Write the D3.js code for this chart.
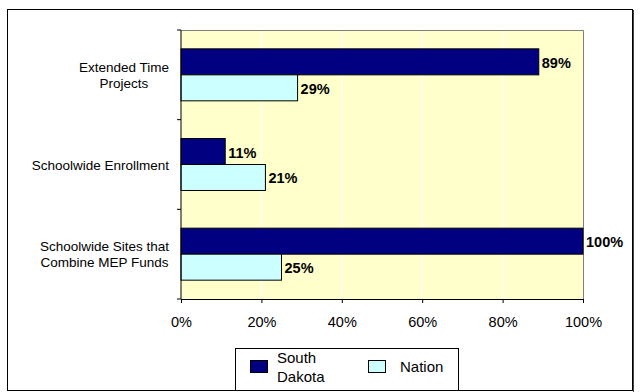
<!DOCTYPE html>
<html><head><meta charset="utf-8">
<script src="https://cdn.jsdelivr.net/npm/d3@7"></script>
<style>body{margin:0;background:#fff}svg{display:block;font-family:"Liberation Sans",Arial,sans-serif}</style>
</head><body><svg id="c" width="643" height="392"></svg>
<script>
const categories = [["Extended Time","Projects"],["Schoolwide Enrollment"],["Schoolwide Sites that","Combine MEP Funds"]];
const southDakota = [89, 11, 100];
const nation = [29, 21, 25];
const seriesNames = [["South","Dakota"],["Nation"]];
const xTicks = [0, 20, 40, 60, 80, 100];
const colors = ["#000080", "#CCFFFF"];

const svg = d3.select("#c");
svg.append("rect").attr("x",7.5).attr("y",9.5).attr("width",625).attr("height",381).attr("fill","#fff").attr("stroke","#000");
svg.append("line").attr("x1",633.5).attr("x2",633.5).attr("y1",10).attr("y2",392).attr("stroke","#444");

const L=181, R=583, T=30, B=299;
const x = d3.scaleLinear().domain([0,100]).range([L,R]);
const y = d3.scaleBand().domain(d3.range(categories.length)).range([T,B]).paddingInner(0).paddingOuter(0);
const inner = d3.scaleBand().domain([0,1]).range([0,y.bandwidth()]).paddingInner(0).paddingOuter(0.725);

svg.append("rect").attr("x",L).attr("y",T).attr("width",R-L).attr("height",B-T).attr("fill","#FFFFCC");
svg.append("g").selectAll("line").data(xTicks.slice(1,-1)).join("line")
  .attr("x1",d=>x(d)).attr("x2",d=>x(d)).attr("y1",T).attr("y2",B).attr("stroke","#fff").attr("stroke-width",1);
svg.append("path").attr("d",`M${L},${T+0.5}H${R+0.5}V${B}`).attr("fill","none").attr("stroke","#808080");

const series=[southDakota,nation];
series.forEach((vals,si)=>{
  const g=svg.append("g");
  g.selectAll("rect").data(vals).join("rect")
    .attr("x",L).attr("y",(d,i)=>y(i)+inner(si))
    .attr("width",d=>x(d)-L).attr("height",inner.bandwidth())
    .attr("fill",colors[si]).attr("stroke","#000").attr("stroke-width",1);
  g.selectAll("text").data(vals).join("text")
    .attr("x",d=>x(d)+3).attr("y",(d,i)=>y(i)+inner(si)+inner.bandwidth()/2+6)
    .attr("font-size",14.5).attr("font-weight","bold").text(d=>d+"%");
});

// x axis
const xa=svg.append("g").attr("transform",`translate(0,${B})`)
  .call(d3.axisBottom(x).tickValues(xTicks).tickFormat(d=>d+"%").tickSize(4).tickSizeOuter(0));
xa.select(".domain").attr("stroke","#000");
xa.selectAll("text").attr("font-size",14.5).attr("dy",null).attr("y",28).attr("font-family","Liberation Sans, Arial, sans-serif").attr("fill","#000");

// y axis
const ya=svg.append("g").attr("transform",`translate(${L},0)`);
ya.append("line").attr("x1",0).attr("x2",0).attr("y1",T).attr("y2",B).attr("stroke","#000");
ya.selectAll("line.t").data(d3.range(categories.length+1)).join("line").attr("class","t")
  .attr("x1",-4).attr("x2",0).attr("y1",d=>T+d*y.bandwidth()).attr("y2",d=>T+d*y.bandwidth()).attr("stroke","#000");
categories.forEach((lines,i)=>{
  const cy=y(i)+y.bandwidth()/2;
  const t=svg.append("text").attr("text-anchor","middle").attr("font-size",13.5).attr("fill","#000");
  const tspans=lines.map((l,k)=>t.append("tspan").attr("y",cy+5+(k-(lines.length-1)/2)*16).text(l));
  const maxW=d3.max(tspans,s=>s.node().getComputedTextLength());
  const cx=169-maxW/2;
  tspans.forEach(s=>s.attr("x",cx));
});

// legend
const lg=svg.append("g");
lg.append("rect").attr("x",235.5).attr("y",348.5).attr("width",223).attr("height",42).attr("fill","#fff").attr("stroke","#000");
const legX=[250,368];
seriesNames.forEach((nm,i)=>{
  lg.append("rect").attr("x",legX[i]+0.5).attr("y",360.5).attr("width",17).attr("height",12).attr("fill",colors[i]).attr("stroke","#000");
  const t=lg.append("text").attr("font-size",15).attr("fill","#000");
  nm.forEach((l,k)=>t.append("tspan").attr("x",legX[i]+(i===0?27:32)).attr("y",372+(k-(nm.length-1)/2)*19).text(l));
});
</script></body></html>
